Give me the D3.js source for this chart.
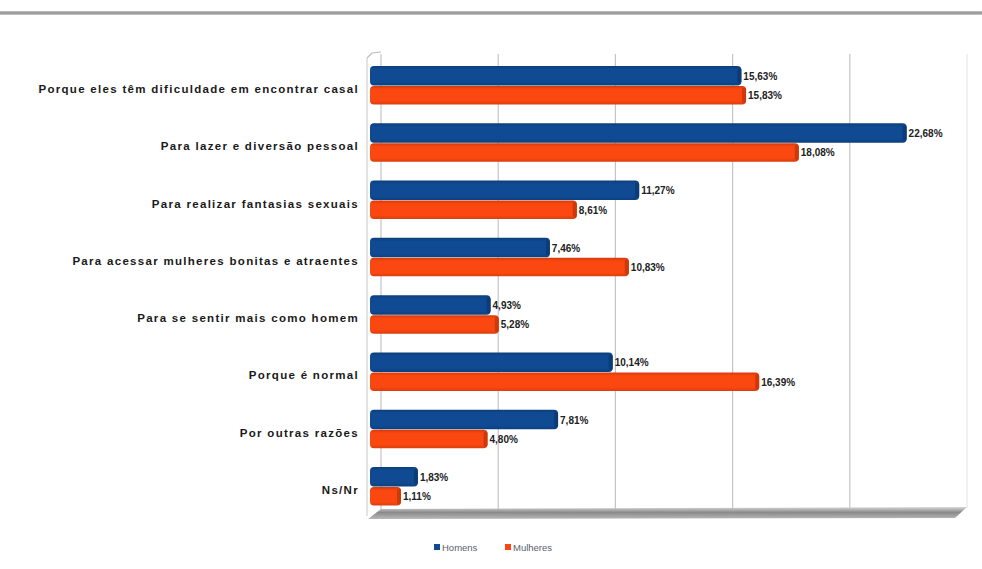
<!DOCTYPE html>
<html><head><meta charset="utf-8">
<script src="https://cdn.jsdelivr.net/npm/d3@7"></script>
<style>html,body{margin:0;padding:0;background:#fff;}svg{display:block;}</style>
</head><body>
<script>
const categories = [
  "Porque eles têm dificuldade em encontrar casal",
  "Para lazer e diversão pessoal",
  "Para realizar fantasias sexuais",
  "Para acessar mulheres bonitas e atraentes",
  "Para se sentir mais como homem",
  "Porque é normal",
  "Por outras razões",
  "Ns/Nr"
];
const seriesNames = ["Homens", "Mulheres"];
const homens   = [15.63, 22.68, 11.27, 7.46, 4.93, 10.14, 7.81, 1.83];
const mulheres = [15.83, 18.08, 8.61, 10.83, 5.28, 16.39, 4.80, 1.11];
const xTicks = [0, 5, 10, 15, 20, 25];
const colors = ["#0f4a93", "#fb4710"];

const W = 982, H = 569;
const svg = d3.select("body").append("svg").attr("width", W).attr("height", H);
const defs = svg.append("defs");

function barGrad(id, c) {
  const g = defs.append("linearGradient").attr("id", id).attr("x1", 0).attr("y1", 0).attr("x2", 0).attr("y2", 1);
  g.append("stop").attr("offset", "0%").attr("stop-color", d3.color(c).darker(0.5));
  g.append("stop").attr("offset", "18%").attr("stop-color", c);
  g.append("stop").attr("offset", "80%").attr("stop-color", c);
  g.append("stop").attr("offset", "100%").attr("stop-color", d3.color(c).darker(0.4));
}
barGrad("g0", colors[0]); barGrad("g1", colors[1]);
const fg = defs.append("linearGradient").attr("id", "floor").attr("x1", 0).attr("y1", 0).attr("x2", 0).attr("y2", 1);
fg.append("stop").attr("offset", "0%").attr("stop-color", "#d8d8d8");
fg.append("stop").attr("offset", "45%").attr("stop-color", "#8a8a8a");
fg.append("stop").attr("offset", "100%").attr("stop-color", "#b8b8b8");
const tg = defs.append("linearGradient").attr("id", "topline").attr("x1", 0).attr("y1", 0).attr("x2", 0).attr("y2", 1);
tg.append("stop").attr("offset", "0%").attr("stop-color", "#c8c8c8");
tg.append("stop").attr("offset", "50%").attr("stop-color", "#8f8f8f");
tg.append("stop").attr("offset", "100%").attr("stop-color", "#d0d0d0");

svg.append("rect").attr("x", 0).attr("y", 11).attr("width", W).attr("height", 4).attr("fill", "url(#topline)");

const xBack = d3.scaleLinear().domain([0, 25]).range([381, 967]);
const xFront = d3.scaleLinear().domain([0, 25]).range([375, 961]);
const y = d3.scaleBand().domain(categories).range([56.8, 515.2]).paddingInner(0.32).paddingOuter(0.16);
const ys = d3.scaleBand().domain(seriesNames).range([0, y.bandwidth()]).padding(0);

svg.append("g").selectAll("line").data(xTicks.slice(0, -1)).join("line")
  .attr("x1", d => xBack(d)).attr("x2", d => xBack(d))
  .attr("y1", 54).attr("y2", 510)
  .attr("stroke", "#c4c4c4").attr("stroke-width", 1.2);
svg.append("line").attr("x1", xBack(25)).attr("x2", xBack(25)).attr("y1", 54).attr("y2", 508)
  .attr("stroke", "#e2e2e2").attr("stroke-width", 1);
svg.append("path").attr("d", `M367,58 L372,53 L381,52`).attr("fill", "none").attr("stroke", "#bbb").attr("stroke-width", 1.2);
svg.append("line").attr("x1", 367).attr("x2", 367).attr("y1", 58).attr("y2", 516)
  .attr("stroke", "#d0d0d0").attr("stroke-width", 1.2);

svg.append("path")
  .attr("d", `M${xBack(0)},509 L${xBack(25)},507 L${xFront(25) - 6},518 L368,519 Z`)
  .attr("fill", "url(#floor)");

svg.append("g").selectAll("text").data(categories).join("text")
  .attr("x", 359).attr("y", d => y(d) + y.bandwidth() / 2 + 7.5)
  .attr("text-anchor", "end")
  .attr("font-family", "Liberation Sans, Arial, sans-serif")
  .attr("font-weight", "bold").attr("font-size", 11.5)
  .attr("letter-spacing", 1.3)
  .attr("fill", "#1a1a1a")
  .text(d => d);

const data = [];
categories.forEach((c, i) => {
  data.push({ c, s: seriesNames[0], v: homens[i], k: 0 });
  data.push({ c, s: seriesNames[1], v: mulheres[i], k: 1 });
});
const bars = svg.append("g");
bars.selectAll("rect.bar").data(data).join("rect").attr("class", "bar")
  .attr("x", xFront(0) - 5)
  .attr("y", d => y(d.c) + ys(d.s) + (d.k === 0 ? 0 : 0.5))
  .attr("width", d => xFront(d.v) - xFront(0) + 5)
  .attr("height", d => ys.bandwidth() - (d.k === 0 ? 0 : 1))
  .attr("rx", 4).attr("ry", 4)
  .attr("fill", d => `url(#g${d.k})`);
bars.selectAll("rect.cap").data(data).join("rect").attr("class", "cap")
  .attr("x", d => xFront(d.v) - 4)
  .attr("y", d => y(d.c) + ys(d.s) + 2)
  .attr("width", 4)
  .attr("height", d => ys.bandwidth() - 4)
  .attr("rx", 2)
  .attr("fill", d => d3.color(colors[d.k]).darker(0.6));

const fmt = v => v.toFixed(2).replace(".", ",") + "%";
svg.append("g").selectAll("text").data(data).join("text")
  .attr("x", d => xFront(d.v) + 2)
  .attr("y", d => y(d.c) + ys(d.s) + ys.bandwidth() / 2 + 4)
  .attr("font-family", "Liberation Sans, Arial, sans-serif")
  .attr("font-weight", "bold").attr("font-size", 10)
  .attr("fill", "#222")
  .text(d => fmt(d.v));

const leg = svg.append("g").attr("font-family", "Liberation Sans, Arial, sans-serif").attr("font-size", 9.5);
const legX = [434, 505];
seriesNames.forEach((s, i) => {
  leg.append("rect").attr("x", legX[i]).attr("y", 544).attr("width", 6).attr("height", 6).attr("fill", colors[i]);
  leg.append("text").attr("x", legX[i] + 8).attr("y", 550.5).attr("fill", "#5a6070").text(s);
});
</script>
</body></html>
